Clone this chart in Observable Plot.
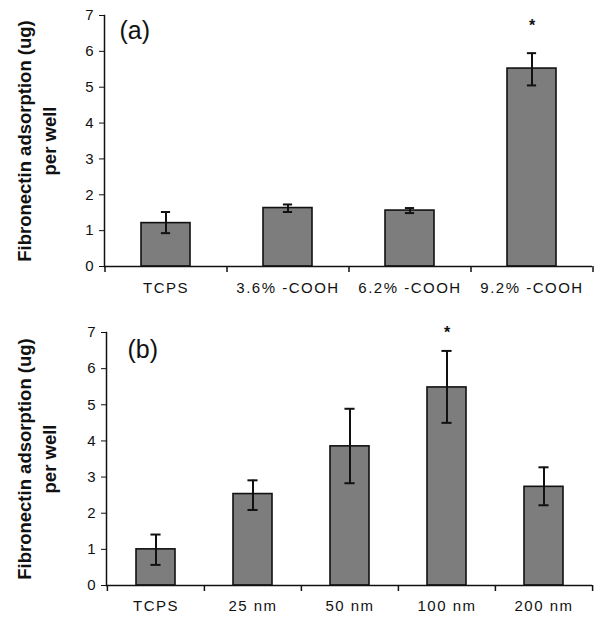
<!DOCTYPE html>
<html>
<head>
<meta charset="utf-8">
<script src="https://cdn.jsdelivr.net/npm/d3@7"></script>
<script src="https://cdn.jsdelivr.net/npm/@observablehq/plot@0.6"></script>
<style>
  html, body { margin: 0; padding: 0; background: #fff; }
  #chart svg { display: block; font-family: Arial, "Liberation Sans", sans-serif; }
  #chart g[aria-label="x-axis tick label"] text { letter-spacing: 1.5px; }
</style>
</head>
<body>
<div id="chart"></div>
<script>
// Panel (a): -COOH content
const catsA = ["TCPS", "3.6% -COOH", "6.2% -COOH", "9.2% -COOH"];
const meanA = [1.21, 1.63, 1.56, 5.52];
const loA   = [0.93, 1.52, 1.49, 5.05];
const hiA   = [1.52, 1.73, 1.63, 5.95];
const starA = [{cat: "9.2% -COOH", y: 6.82}];

// Panel (b): particle size
const catsB = ["TCPS", "25 nm", "50 nm", "100 nm", "200 nm"];
const meanB = [1.00, 2.53, 3.85, 5.48, 2.73];
const loB   = [0.57, 2.09, 2.83, 4.50, 2.22];
const hiB   = [1.41, 2.91, 4.89, 6.49, 3.27];
const starB = [{cat: "100 nm", y: 7.11}];

const yTicks = [0, 1, 2, 3, 4, 5, 6, 7];
const yTitle1 = "Fibronectin adsorption (ug)";
const yTitle2 = "per well";

function panel(cats, mean, lo, hi, stars, tag, L) {
  const data = cats.map((c, i) => ({cat: c, mean: mean[i], lo: lo[i], hi: hi[i]}));
  const width = 600;
  const n = cats.length;
  const step = (width - L.ml - L.mr) / n;
  const bw = step * 0.4;
  const inset = (bw - L.cap) / 2;
  return Plot.plot({
    width, height: L.h,
    marginLeft: L.ml, marginRight: L.mr, marginTop: L.mt, marginBottom: L.mb,
    style: {fontSize: "14px", color: "#111", background: "#fff"},
    x: {domain: cats, paddingInner: 0.6, paddingOuter: 0.3, label: null},
    y: {domain: [0, 7], label: null},
    marks: [
      Plot.barY(data, {x: "cat", y: "mean", fill: "#7d7d7d", stroke: "#111", strokeWidth: 1.6}),
      Plot.ruleX(data, {x: "cat", y1: "lo", y2: "hi", stroke: "#111", strokeWidth: 2}),
      Plot.tickY(data, {x: "cat", y: "lo", insetLeft: inset, insetRight: inset, stroke: "#111", strokeWidth: 2}),
      Plot.tickY(data, {x: "cat", y: "hi", insetLeft: inset, insetRight: inset, stroke: "#111", strokeWidth: 2}),
      Plot.frame({anchor: "left", stroke: "#111", strokeWidth: 1.5}),
      Plot.ruleY([0], {stroke: "#111", strokeWidth: 1.5}),
      // category boundary ticks below the x axis
      Plot.ruleX(cats, {x: d => d, y1: 0, y2: 0, dx: -step / 2, insetBottom: -6, stroke: "#111", strokeWidth: 1.5}),
      Plot.ruleX([cats[n - 1]], {x: d => d, y1: 0, y2: 0, dx: step / 2, insetBottom: -6, stroke: "#111", strokeWidth: 1.5}),
      Plot.axisY({ticks: yTicks, tickSize: 5, tickPadding: 6, tickFormat: d3.format("d"), fontSize: 15, label: null, stroke: "#111"}),
      Plot.axisX({tickSize: 0, tickPadding: L.xpad, fontSize: 15, label: null}),
      Plot.text(stars, {x: "cat", y: "y", text: () => "*", fontSize: 16, fontWeight: "bold", dy: 4, fill: "#111"}),
      Plot.text([tag], {frameAnchor: "top-left", dx: L.tagDx, dy: L.tagDy, lineAnchor: "top", textAnchor: "start", fontSize: 25, fill: "#111"}),
      Plot.text([yTitle1], {frameAnchor: "left", dx: L.t1dx, rotate: -90, textAnchor: "middle", lineAnchor: "middle", fontSize: 18.5, fontWeight: "bold", fill: "#111"}),
      Plot.text([yTitle2], {frameAnchor: "left", dx: L.t2dx, rotate: -90, textAnchor: "middle", lineAnchor: "middle", fontSize: 18.5, fontWeight: "bold", fill: "#111"})
    ]
  });
}

const chart = document.getElementById("chart");
chart.append(panel(catsA, meanA, loA, hiA, starA, "(a)",
  {h: 310, ml: 104, mr: 8, mt: 15, mb: 44, cap: 9, xpad: 16, tagDx: 15, tagDy: 6, t1dx: -79, t2dx: -54}));
chart.append(panel(catsB, meanB, loB, hiB, starB, "(b)",
  {h: 311, ml: 106, mr: 8, mt: 22, mb: 36, cap: 10, xpad: 15, tagDx: 21, tagDy: 8, t1dx: -81, t2dx: -56}));
</script>
</body>
</html>
